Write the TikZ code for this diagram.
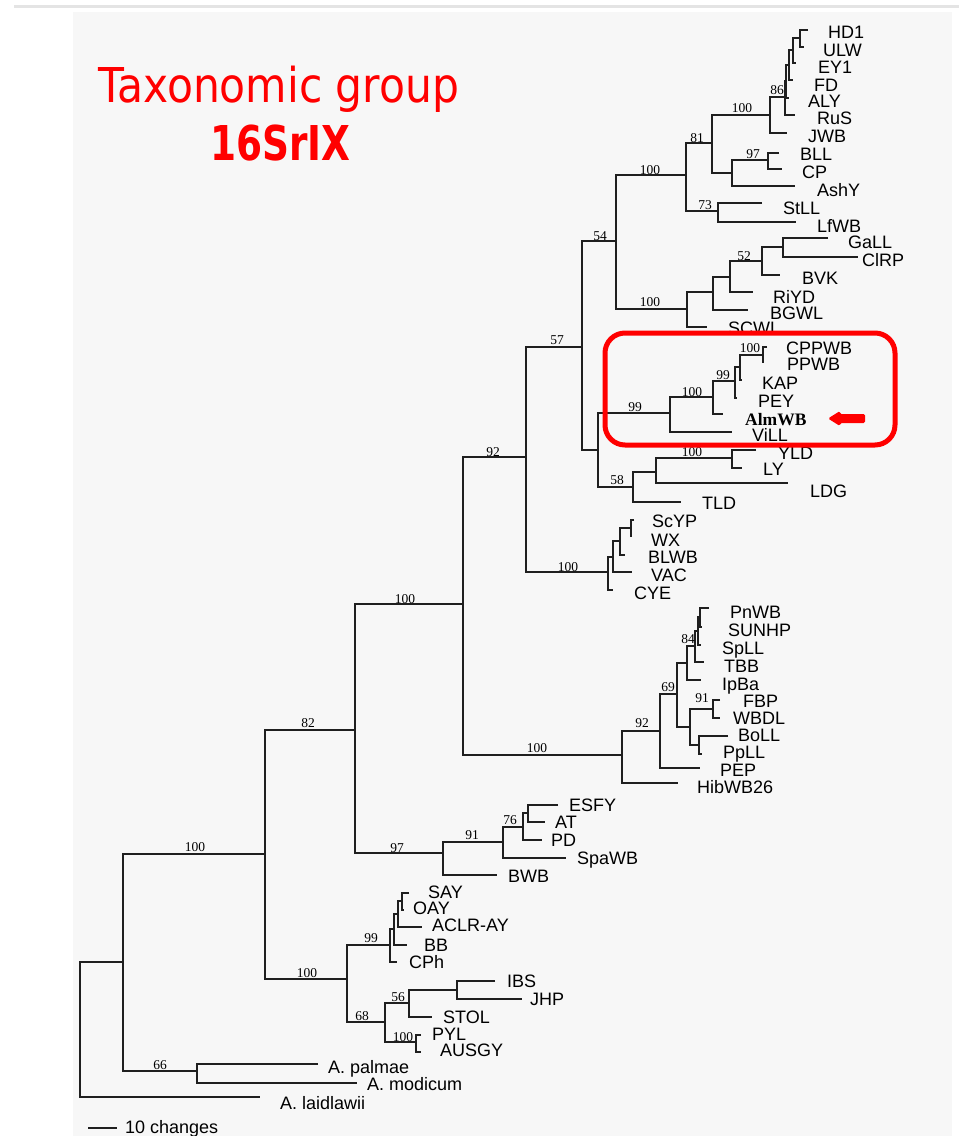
\documentclass[tikz,border=0pt]{standalone}
\usepackage{fontspec}
\setmainfont{Liberation Sans}
\newfontfamily\serifnum{Liberation Serif}
\newfontfamily\titlefont{DejaVu Sans}
\definecolor{panel}{HTML}{F7F7F7}
\definecolor{topline}{HTML}{E4E4E4}
\definecolor{hlred}{HTML}{FF0000}
\begin{document}
\begin{tikzpicture}[x=1pt,y=-1pt,
  br/.style={line width=1.8pt, draw=black!88},
  lab/.style={anchor=west, inner sep=0pt, text height=12.9pt, text depth=0pt, font=\fontsize{18}{18}\selectfont},
  bs/.style={inner sep=0pt, text height=8.8pt, text depth=0pt, font=\serifnum\fontsize{13.5}{13.5}\selectfont}]
\useasboundingbox (0,0) rectangle (959,1136);
\fill[white] (0,0) rectangle (959,1136);
\fill[panel] (73,12) rectangle (952,1136);
\fill[topline] (14,5) rectangle (959,8);

% ---- coordinates
\coordinate (r) at (80,962);
\coordinate (A) at (123,962);
\coordinate (B) at (265,854);
\coordinate (Apm) at (197,1071);
\coordinate (tpal) at (318,1064);
\coordinate (tmod) at (357,1083);
\coordinate (tlai) at (260,1097);
\coordinate (C) at (355,730);
\coordinate (D) at (347,979);
\coordinate (E) at (463,604);
\coordinate (F) at (443,853);
\coordinate (G) at (526,457);
\coordinate (H) at (622,755);
\coordinate (I) at (582,347);
\coordinate (J) at (608,572);
\coordinate (K) at (616,241);
\coordinate (L) at (598,450);
\coordinate (M) at (686,175);
\coordinate (N) at (687,309);
\coordinate (O) at (712,143);
\coordinate (P) at (718,211);
\coordinate (Q) at (770,115);
\coordinate (R) at (732,173);
\coordinate (n5) at (785,97);
\coordinate (n4) at (786,81);
\coordinate (n3) at (789,65);
\coordinate (n2) at (793,50);
\coordinate (n1) at (800,38);
\coordinate (tHD1) at (808,30);
\coordinate (tULW) at (804,47);
\coordinate (tEY1) at (796,63);
\coordinate (tFD) at (793,80);
\coordinate (tALY) at (789,98);
\coordinate (tRuS) at (795,115);
\coordinate (tJWB) at (787,133);
\coordinate (BC) at (768,160);
\coordinate (tBLL) at (779,153);
\coordinate (tCP) at (782,169);
\coordinate (tAshY) at (795,186);
\coordinate (tStLL) at (762,203);
\coordinate (tLfWB) at (796,222);
\coordinate (S) at (713,292);
\coordinate (T) at (730,277);
\coordinate (U) at (762,261);
\coordinate (V) at (783,247);
\coordinate (tGaLL) at (828,238);
\coordinate (tClRP) at (858,257);
\coordinate (tBVK) at (780,275);
\coordinate (tRiYD) at (753,292);
\coordinate (tBGWL) at (748,310);
\coordinate (tSCWL) at (707,327);
\coordinate (W) at (670,413);
\coordinate (Y) at (713,397);
\coordinate (Z) at (735,381);
\coordinate (Z2) at (740,367);
\coordinate (Z3) at (763,355);
\coordinate (tCPPWB) at (767,347);
\coordinate (tPPWB) at (764,362);
\coordinate (tKAP) at (742,380);
\coordinate (tPEY) at (737,398);
\coordinate (tAlmWB) at (723,414);
\coordinate (tViLL) at (732,432);
\coordinate (X) at (633,487);
\coordinate (X2) at (656,472);
\coordinate (X3) at (732,458);
\coordinate (tYLD) at (756,450);
\coordinate (tLY) at (742,468);
\coordinate (tLDG) at (788,483);
\coordinate (tTLD) at (681,502);
\coordinate (J2) at (613,557);
\coordinate (J3) at (620,541);
\coordinate (J4) at (631,528);
\coordinate (tScYP) at (634,520);
\coordinate (tWX) at (631,537);
\coordinate (tBLWB) at (625,555);
\coordinate (tVAC) at (632,572);
\coordinate (tCYE) at (613,590);
\coordinate (H2) at (660,731);
\coordinate (H3) at (677,694);
\coordinate (H4) at (687,663);
\coordinate (H5) at (690,727);
\coordinate (H6) at (695,646);
\coordinate (H7) at (698,631);
\coordinate (H8) at (700,617);
\coordinate (H9) at (713,709);
\coordinate (H10) at (699,745);
\coordinate (tPnWB) at (709,608);
\coordinate (tSUNHP) at (702,627);
\coordinate (tSpLL) at (701,645);
\coordinate (tTBB) at (704,662);
\coordinate (tIpBa) at (701,680);
\coordinate (tFBP) at (720,700);
\coordinate (tWBDL) at (720,718);
\coordinate (tBoLL) at (728,736);
\coordinate (tPpLL) at (702,754);
\coordinate (tPEP) at (700,768);
\coordinate (tHib) at (678,783);
\coordinate (F2) at (503,842);
\coordinate (F3) at (523,827);
\coordinate (F4) at (528,813);
\coordinate (tESFY) at (558,805);
\coordinate (tAT) at (545,822);
\coordinate (tPD) at (542,840);
\coordinate (tSpaWB) at (566,858);
\coordinate (tBWB) at (497,875);
\coordinate (s4) at (390,945);
\coordinate (s3) at (394,929);
\coordinate (s2) at (398,914);
\coordinate (s1) at (402,901);
\coordinate (tSAY) at (409,893);
\coordinate (tOAY) at (404,910);
\coordinate (tACLR) at (422,927);
\coordinate (tBB) at (407,945);
\coordinate (tCPh) at (397,962);
\coordinate (D2) at (385,1022);
\coordinate (D3) at (409,1003);
\coordinate (D4) at (416,1042);
\coordinate (D5) at (457,990);
\coordinate (tIBS) at (495,981);
\coordinate (tJHP) at (522,999);
\coordinate (tSTOL) at (432,1017);
\coordinate (tPYL) at (421,1035);
\coordinate (tAUSGY) at (421,1052);

% ---- branches
\foreach \p/\a/\b in {r/A/tlai, A/B/Apm, Apm/tpal/tmod, B/C/D, C/E/F, E/G/H, G/I/J, I/K/L,
  K/M/N, M/O/P, O/Q/R, Q/n5/tJWB, n5/n4/tRuS, n4/n3/tALY, n3/n2/tFD, n2/n1/tEY1, n1/tHD1/tULW,
  R/BC/tAshY, BC/tBLL/tCP, P/tStLL/tLfWB,
  N/S/tSCWL, S/T/tBGWL, T/U/tRiYD, U/V/tBVK, V/tGaLL/tClRP,
  L/W/X, W/Y/tViLL, Y/Z/tAlmWB, Z/Z2/tPEY, Z2/Z3/tKAP, Z3/tCPPWB/tPPWB,
  X/X2/tTLD, X2/X3/tLDG, X3/tYLD/tLY,
  J/J2/tCYE, J2/J3/tVAC, J3/J4/tBLWB, J4/tScYP/tWX,
  H/H2/tHib, H2/H3/tPEP, H3/H4/H5, H4/H6/tIpBa, H6/H7/tTBB, H7/H8/tSpLL, H8/tPnWB/tSUNHP,
  H5/H9/H10, H9/tFBP/tWBDL, H10/tBoLL/tPpLL,
  F/F2/tBWB, F2/F3/tSpaWB, F3/F4/tPD, F4/tESFY/tAT,
  D/s4/D2, s4/s3/tCPh, s3/s2/tBB, s2/s1/tACLR, s1/tSAY/tOAY,
  D2/D3/D4, D3/D5/tSTOL, D5/tIBS/tJHP, D4/tPYL/tAUSGY}
  {\draw[br] (\a) -| (\p) |- (\b);}

% ---- tip labels
\node[lab] (lHD1) at (828,32) {HD1};
\node[lab] (lULW) at (823,50) {ULW};
\node[lab] (lEY1) at (818,67) {EY1};
\node[lab] (lFD) at (814,85) {FD};
\node[lab] (lALY) at (808,101) {ALY};
\node[lab] (lRuS) at (817,118) {RuS};
\node[lab] (lJWB) at (808,136) {JWB};
\node[lab] (lBLL) at (800,154) {BLL};
\node[lab] (lCP) at (802,172) {CP};
\node[lab] (lAshY) at (817,190) {AshY};
\node[lab] (lStLL) at (783,208) {StLL};
\node[lab] (lLfWB) at (817,226) {LfWB};
\node[lab] (lGaLL) at (848,242) {GaLL};
\node[lab] (lClRP) at (862,260) {ClRP};
\node[lab] (lBVK) at (802,278) {BVK};
\node[lab] (lRiYD) at (773,297) {RiYD};
\node[lab] (lBGWL) at (770,313) {BGWL};
\node[lab] (lSCWL) at (728,328) {SCWL};
\node[lab] (lCPPWB) at (786,348) {CPPWB};
\node[lab] (lPPWB) at (787,364) {PPWB};
\node[lab] (lKAP) at (762,383) {KAP};
\node[lab] (lPEY) at (758,401) {PEY};
\node[lab, font=\serifnum\bfseries\fontsize{17.5}{17.5}\selectfont] (lAlmWB) at (745,419) {AlmWB};
\node[lab] (lViLL) at (752,435) {ViLL};
\node[lab] (lYLD) at (778,453) {YLD};
\node[lab] (lLY) at (763,469) {LY};
\node[lab] (lLDG) at (810,491) {LDG};
\node[lab] (lTLD) at (702,503) {TLD};
\node[lab] (lScYP) at (652,521) {ScYP};
\node[lab] (lWX) at (651,540) {WX};
\node[lab] (lBLWB) at (648,557) {BLWB};
\node[lab] (lVAC) at (651,575) {VAC};
\node[lab] (lCYE) at (634,593) {CYE};
\node[lab] (lPnWB) at (730,612) {PnWB};
\node[lab] (lSUNHP) at (728,630) {SUNHP};
\node[lab] (lSpLL) at (722,648) {SpLL};
\node[lab] (lTBB) at (724,666) {TBB};
\node[lab] (lIpBa) at (722,684) {IpBa};
\node[lab] (lFBP) at (743,701) {FBP};
\node[lab] (lWBDL) at (733,718) {WBDL};
\node[lab] (lBoLL) at (738,735) {BoLL};
\node[lab] (lPpLL) at (723,752) {PpLL};
\node[lab] (lPEP) at (720,770) {PEP};
\node[lab] (lHib) at (697,787) {HibWB26};
\node[lab] (lESFY) at (569,805) {ESFY};
\node[lab] (lAT) at (555,822) {AT};
\node[lab] (lPD) at (551,840) {PD};
\node[lab] (lSpaWB) at (577,858) {SpaWB};
\node[lab] (lBWB) at (508,876) {BWB};
\node[lab] (lSAY) at (428,892) {SAY};
\node[lab] (lOAY) at (413,908) {OAY};
\node[lab] (lACLR) at (432,925) {ACLR-AY};
\node[lab] (lBB) at (424,945) {BB};
\node[lab] (lCPh) at (409,962) {CPh};
\node[lab] (lIBS) at (507,981) {IBS};
\node[lab] (lJHP) at (530,999) {JHP};
\node[lab] (lSTOL) at (443,1017) {STOL};
\node[lab] (lPYL) at (432,1034) {PYL};
\node[lab] (lAUSGY) at (440,1050) {AUSGY};
\node[lab] (lpal) at (328,1067) {A. palmae};
\node[lab] (lmod) at (367,1084) {A. modicum};
\node[lab] (llai) at (280,1103) {A. laidlawii};

% ---- bootstrap values
\foreach \v/\x/\y in {100/195/847, 82/308/723, 100/405/599, 92/493/452, 57/557/340, 54/600/236,
  100/650/170, 81/697/138, 100/742/108, 86/777/90, 97/753/154, 73/705/205,
  100/650/302, 52/744/256, 100/750/348, 99/723/375, 100/692/392, 99/635/407,
  100/692/452, 58/617/480, 100/568/567, 84/688/639, 69/668/687, 91/702/698,
  92/642/723, 100/537/748, 97/397/848, 91/472/835, 76/510/820, 99/371/938,
  100/307/973, 56/398/997, 68/362/1016, 100/403/1037, 66/160/1065}
  {\node[bs] at (\x,\y) {\v};}

% ---- scale bar
\coordinate (sb1) at (88,1128);
\coordinate (sb2) at (117,1128);
\draw[br] (sb1) -- (sb2);
\node[lab] (lsb) at (125,1127) {10 changes};

% ---- title
\node[anchor=base west, inner sep=0pt, text=hlred] (title1) at (98,102)
  {\titlefont\fontsize{48}{48}\selectfont\scalebox{0.885}[1]{Taxonomic group}};
\node[anchor=base west, inner sep=0pt, text=hlred] (title2) at (210,160)
  {\titlefont\bfseries\fontsize{48}{48}\selectfont\scalebox{0.78}[1]{16SrIX}};

% ---- highlight box and arrow
\node[draw=hlred, line width=5pt, rounded corners=20pt, minimum width=290pt, minimum height=112pt, inner sep=0pt] (hbox) at (750,389) {};
\fill[hlred, rounded corners=1.5pt] (828,418.5) -- (840,411) -- (840,414) -- (865,414) -- (865,423) -- (840,423) -- (840,426) -- cycle;
\end{tikzpicture}
\end{document}
